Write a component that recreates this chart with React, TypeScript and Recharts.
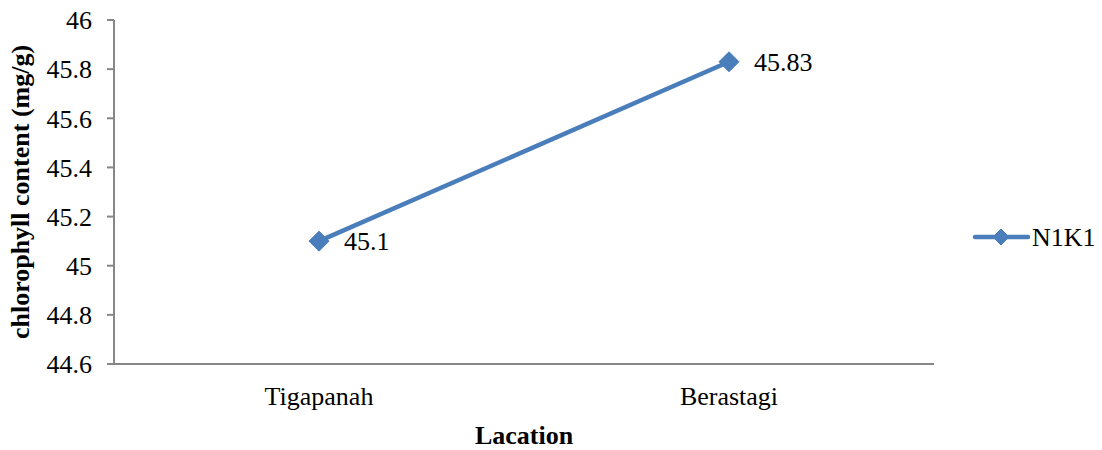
import { LineChart, Line, XAxis, YAxis, Label, LabelList, Legend } from "recharts";

const locations = ["Tigapanah", "Berastagi"];
const n1k1 = [45.1, 45.83];
const yTicks = [44.6, 44.8, 45, 45.2, 45.4, 45.6, 45.8, 46];

const data = locations.map((loc, i) => ({ loc, n1k1: n1k1[i] }));

const BLUE = "#4a7ebb";
const AXIS = "#868686";
const FONT = "Liberation Serif, Times New Roman, serif";
const FS = 26;

const Diamond = (props: any) => {
  const { cx, cy, r = 10 } = props;
  if (cx == null || cy == null) return null;
  return (
    <polygon
      points={`${cx},${cy - r} ${cx + r},${cy} ${cx},${cy + r} ${cx - r},${cy}`}
      fill={BLUE}
      stroke={BLUE}
      strokeWidth={1}
      strokeLinejoin="round"
    />
  );
};

const renderValue = (props: any) => {
  const { x, y, value } = props;
  return (
    <text x={x + 25} y={y} dy="0.35em" fontSize={FS} fontFamily={FONT} fill="#000">
      {value}
    </text>
  );
};

const renderLegend = () => (
  <svg width={127} height={30} style={{ display: "block" }}>
    <line x1={3} y1={15} x2={56} y2={15} stroke={BLUE} strokeWidth={4.5} strokeLinecap="round" />
    <Diamond cx={29} cy={15} r={8} />
    <text x={60} y={15} dy="0.35em" fontSize={FS} fontFamily={FONT} fill="#000">
      N1K1
    </text>
  </svg>
);

export default function App() {
  return (
    <div style={{ position: "absolute", left: 0, top: 0, background: "#fff", fontFamily: FONT }}>
      <LineChart width={1102} height={450} data={data} margin={{ top: 20, right: 41, bottom: 0, left: 0 }}>
        <XAxis
          dataKey="loc"
          height={86}
          padding={{ left: 205, right: 205 }}
          tickLine={false}
          tickSize={0}
          tickMargin={23}
          axisLine={{ stroke: AXIS, strokeWidth: 2 }}
          tick={{ fontSize: FS, fontFamily: FONT, fill: "#000" }}
        >
          <Label
            content={({ viewBox }: any) => (
              <text
                x={viewBox.x + viewBox.width / 2}
                y={444}
                textAnchor="middle"
                fontSize={FS}
                fontWeight="bold"
                fontFamily={FONT}
                fill="#000"
              >
                Lacation
              </text>
            )}
          />
        </XAxis>
        <YAxis
          width={114}
          domain={[44.6, 46]}
          ticks={yTicks}
          interval={0}
          allowDataOverflow
          tickSize={7}
          tickMargin={15}
          tickLine={{ stroke: AXIS, strokeWidth: 2 }}
          axisLine={{ stroke: AXIS, strokeWidth: 2 }}
          tick={{ fontSize: FS, fontFamily: FONT, fill: "#000" }}
          tickFormatter={(v: number) => String(Math.round(v * 10) / 10)}
        >
          <Label
            content={({ viewBox }: any) => {
              const cy = viewBox.y + viewBox.height / 2;
              return (
                <text
                  x={20}
                  y={cy}
                  transform={`rotate(-90, 20, ${cy})`}
                  textAnchor="middle"
                  dy="0.35em"
                  fontSize={FS}
                  fontWeight="bold"
                  fontFamily={FONT}
                  fill="#000"
                >
                  chlorophyll content (mg/g)
                </text>
              );
            }}
          />
        </YAxis>
        <Legend
          content={renderLegend}
          layout="vertical"
          verticalAlign="middle"
          align="right"
          wrapperStyle={{ position: "absolute", left: 972, top: 222, width: 127, height: 30 }}
        />
        <Line
          dataKey="n1k1"
          name="N1K1"
          stroke={BLUE}
          strokeWidth={4.5}
          dot={<Diamond r={10} />}
          activeDot={false}
          isAnimationActive={false}
        >
          <LabelList dataKey="n1k1" content={renderValue} />
        </Line>
      </LineChart>
    </div>
  );
}
